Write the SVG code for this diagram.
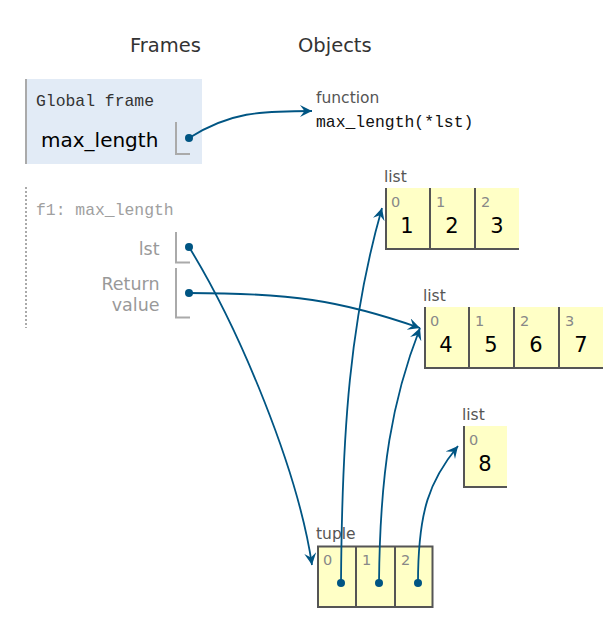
<svg xmlns="http://www.w3.org/2000/svg" width="611" height="631" viewBox="0 0 611 631">
<style>
.hdr{font-family:"DejaVu Sans",Verdana,sans-serif;font-size:19.5px;fill:#333}
.mono{font-family:"Liberation Mono","Courier New",monospace;font-size:16.4px}
.var{font-family:"DejaVu Sans",Verdana,sans-serif;font-size:17.5px;fill:#999;text-anchor:end}
.type{font-family:"DejaVu Sans",Verdana,sans-serif;font-size:15.5px;fill:#555}
.idx{font-family:"DejaVu Sans",Verdana,sans-serif;font-size:14.5px;fill:#888}
.val{font-family:"DejaVu Sans",Verdana,sans-serif;font-size:21px;fill:#000;text-anchor:middle}
.brk{fill:none;stroke:#aaa;stroke-width:2}
.cell{fill:#ffffc6}
.cb{fill:none;stroke:#555;stroke-width:2}
.edge{fill:none;stroke:#005583;stroke-width:1.8}
.dot{fill:#005583}
</style>
<defs>
<marker id="arr" markerUnits="userSpaceOnUse" markerWidth="14" markerHeight="14" refX="12" refY="6" orient="auto">
<path d="M0,0 L12,6 L0,12 L4.5,6 z" fill="#005583"/>
</marker>
</defs>

<text class="hdr" x="130" y="52">Frames</text>
<text class="hdr" x="298" y="52">Objects</text>

<g id="global-frame">
<rect x="25" y="79" width="177" height="85" fill="#e2ebf6"/>
<line x1="26" y1="79" x2="26" y2="164" stroke="#aaa" stroke-width="2"/>
<text class="mono" x="36" y="106" fill="#333">Global frame</text>
<text x="41" y="146.5" font-family="DejaVu Sans,Verdana,sans-serif" font-size="20px" fill="#000">max_length</text>
<path class="brk" d="M176,122 V154 H190"/>
<circle class="dot" cx="189" cy="138" r="4"/>
</g>

<g id="f1-frame">
<line x1="26" y1="187" x2="26" y2="328" stroke="#aaa" stroke-width="2" stroke-dasharray="2,2"/>
<text class="mono" x="36" y="215" fill="#a0a0a0">f1: max_length</text>
<text class="var" x="159.5" y="255">lst</text>
<path class="brk" d="M176,232 V262.5 H190"/>
<circle class="dot" cx="189" cy="247" r="4"/>
<text class="var" x="159.5" y="290">Return</text>
<text class="var" x="159.5" y="311">value</text>
<path class="brk" d="M176,268 V317.5 H190"/>
<circle class="dot" cx="189" cy="293" r="4"/>
</g>

<g id="function-obj">
<text class="type" x="316" y="103">function</text>
<text class="mono" x="316" y="127" fill="#111">max_length(*lst)</text>
</g>

<g id="list1">
<text class="type" x="384" y="182">list</text>
<rect class="cell" x="385" y="188" width="134" height="62"/>
<path class="cb" d="M386,188 V250 M430,188 V250 M475,188 V250 M385,249 H519"/>
<text class="idx" x="391" y="207">0</text>
<text class="idx" x="436" y="207">1</text>
<text class="idx" x="481" y="207">2</text>
<text class="val" x="407" y="233">1</text>
<text class="val" x="452" y="233">2</text>
<text class="val" x="497" y="233">3</text>
</g>

<g id="list2">
<text class="type" x="423" y="301">list</text>
<rect class="cell" x="424" y="307" width="179" height="62"/>
<path class="cb" d="M425,307 V369 M469,307 V369 M514,307 V369 M559,307 V369 M424,368 H603"/>
<text class="idx" x="430" y="326">0</text>
<text class="idx" x="475" y="326">1</text>
<text class="idx" x="520" y="326">2</text>
<text class="idx" x="565" y="326">3</text>
<text class="val" x="446" y="352">4</text>
<text class="val" x="491" y="352">5</text>
<text class="val" x="536" y="352">6</text>
<text class="val" x="581" y="352">7</text>
</g>

<g id="list3">
<text class="type" x="462" y="420">list</text>
<rect class="cell" x="463" y="426" width="44" height="62"/>
<path class="cb" d="M464,426 V488 M463,487 H507"/>
<text class="idx" x="469" y="445">0</text>
<text class="val" x="485" y="471">8</text>
</g>

<g id="tuple">
<text class="type" x="316" y="539">tuple</text>
<rect class="cell" x="318" y="546.5" width="114.5" height="60.5"/>
<path class="cb" d="M318,546.5 H432.5 V607 H318 Z M356,546.5 V607 M395,546.5 V607"/>
<text class="idx" x="323" y="565">0</text>
<text class="idx" x="362" y="565">1</text>
<text class="idx" x="401" y="565">2</text>
<circle class="dot" cx="341" cy="583" r="4"/>
<circle class="dot" cx="379" cy="583" r="4"/>
<circle class="dot" cx="418" cy="583" r="4"/>
</g>

<g id="connectors">
<path class="edge" marker-end="url(#arr)" d="M189,138 C230,112 260,111 312,111"/>
<path class="edge" marker-end="url(#arr)" d="M189,247 C240,330 298,470 312,565"/>
<path class="edge" marker-end="url(#arr)" d="M189,293 C290,293 340,300 420,328"/>
<path class="edge" marker-end="url(#arr)" d="M341,583 C342,430 350,320 382,208"/>
<path class="edge" marker-end="url(#arr)" d="M379,583 C380,470 392,400 420,328"/>
<path class="edge" marker-end="url(#arr)" d="M418,583 C418,510 430,480 458,446"/>
</g>
</svg>
